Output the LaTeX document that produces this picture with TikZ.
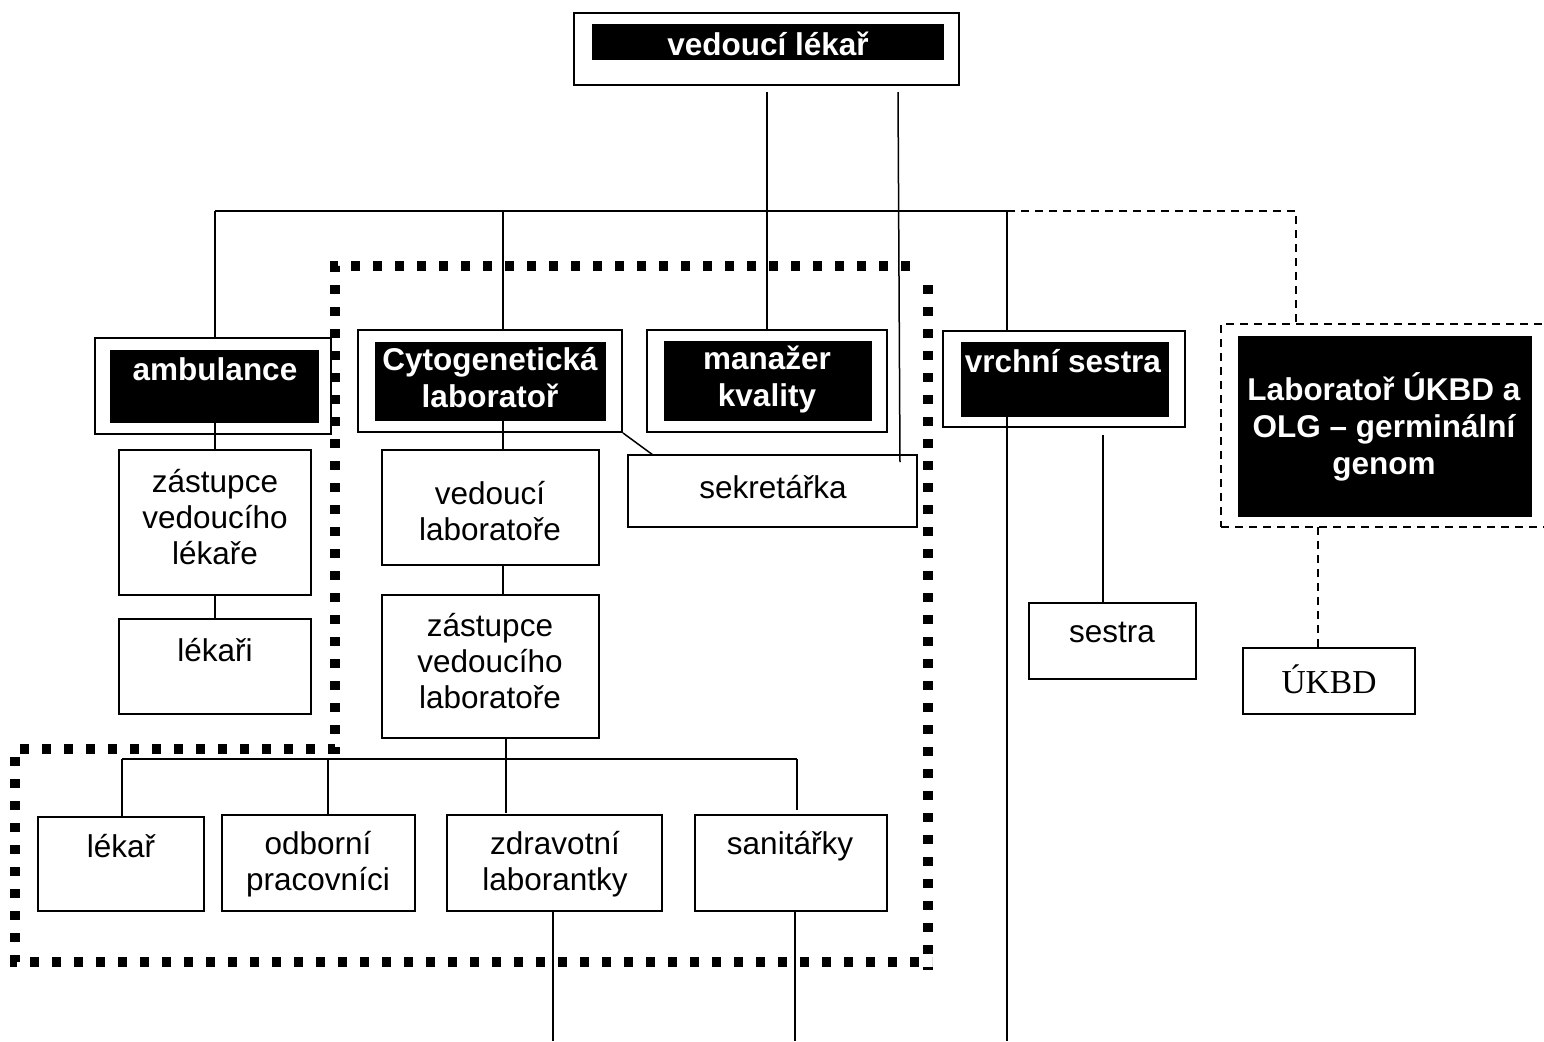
\documentclass[tikz,border=0pt]{standalone}
\usepackage{fontspec}
\setmainfont{Liberation Sans}
\newfontfamily\tmsfont{Liberation Serif}
\usetikzlibrary{fit}
\tikzset{
  box/.style={draw, line width=1pt, inner sep=0pt},
  blk/.style={fill=black, inner sep=0pt},
  dbox/.style={draw, line width=1pt, dash pattern=on 4pt off 3pt, inner sep=0pt},
  conn/.style={line width=0.75pt},
  dconn/.style={line width=0.75pt, dash pattern=on 4pt off 3pt},
  grp/.style={line width=4.6pt, dash pattern=on 4.6pt off 6.4pt},
  txt/.style={font=\fontsize{15.75}{18}\selectfont, align=center, inner sep=0pt},
  wtxt/.style={txt, text=white, font=\fontsize{15.75}{18.5}\selectfont\bfseries},
}
\begin{document}
\begin{tikzpicture}[x=0.5pt,y=-0.5pt]
\clip (0,0) rectangle (1544,1041);
\fill[white] (0,0) rectangle (1544,1041);

% ---- top box
\node[box, fit={(574,13) (959,85)}] (vl) {};
\node[blk, fit={(592,24) (944,60)}] (vlb) {};
\node[wtxt] at (768,44) {vedoucí lékař};

% ---- second level
\node[box, fit={(95,338) (331,434)}] (amb) {};
\node[blk, fit={(110,350) (319,423)}] (ambb) {};
\node[wtxt] at (215,369) {ambulance};

\node[box, fit={(358,330) (622,432)}] (cyt) {};
\node[blk, fit={(375,342) (606,421)}] (cytb) {};
\node[wtxt] at (490,378) {Cytogenetická\\laboratoř};

\node[box, fit={(647,330) (887,432)}] (mk) {};
\node[blk, fit={(664,341) (872,421)}] (mkb) {};
\node[wtxt] at (767,379) {manažer\\kvality};

\node[box, fit={(943,331) (1185,427)}] (vs) {};
\node[blk, fit={(961,342) (1169,417)}] (vsb) {};
\node[wtxt] at (1063,361) {vrchní sestra};

\node[dbox, fit={(1221,324) (1560,527)}] (lab) {};
\node[blk, fit={(1238,336) (1532,517)}] (labb) {};
\node[wtxt] at (1384,427) {Laboratoř ÚKBD a\\OLG – germinální\\genom};

% ---- lower boxes
\node[box, fit={(628,455) (917,527)}] (sek) {};
\node[txt] at (773,487) {sekretářka};

\node[box, fit={(119,450) (311,595)}] (zl) {};
\node[txt] at (215,517) {zástupce\\vedoucího\\lékaře};
\node[box, fit={(119,619) (311,714)}] (lki) {};
\node[txt] at (215,650) {lékaři};

\node[box, fit={(382,450) (599,565)}] (vlab) {};
\node[txt] at (490,511) {vedoucí\\laboratoře};
\node[box, fit={(382,595) (599,738)}] (zlab) {};
\node[txt] at (490,661) {zástupce\\vedoucího\\laboratoře};

\node[box, fit={(38,817) (204,911)}] (lek) {};
\node[txt] at (121,846) {lékař};
\node[box, fit={(222,815) (415,911)}] (odb) {};
\node[txt] at (318,864) {odborní\\pracovníci};
\node[box, fit={(447,815) (662,911)}] (zdr) {};
\node[txt] at (555,864) {zdravotní\\laborantky};
\node[box, fit={(695,815) (887,911)}] (san) {};
\node[txt] at (790,846) {sanitářky};

\node[box, fit={(1029,603) (1196,679)}] (ses) {};
\node[txt] at (1112,632) {sestra};
\node[box, fit={(1243,648) (1415,714)}] (uk) {};
\node[txt, font=\fontsize{16.75}{19}\selectfont\tmsfont] at (1329,679) {ÚKBD};

% ---- connectors
\coordinate (vl1) at (767,92);
\coordinate (vl2) at (898,92);
\coordinate (sekin) at (900,462);
\draw[conn] (vl1) -- (vl1 |- mk.north);
\draw[conn] (vl2) -- (sekin);

\coordinate (busL) at (215,211);
\coordinate (busC) at (503,211);
\coordinate (busR) at (1007,211);
\coordinate (busD) at (1296,211);
\draw[conn] (busL) -- (busR);
\draw[conn] (busL) -- (busL |- amb.north);
\draw[conn] (busC) -- (busC |- cyt.north);
\draw[conn] (busR) -- (busR |- vs.north);
\draw[dconn] (busR) -- (busD) -- (busD |- lab.north);

\draw[conn] (busL |- ambb.south) -- (busL |- zl.north);
\draw[conn] (busL |- zl.south) -- (busL |- lki.north);
\draw[conn] (busC |- cytb.south) -- (busC |- vlab.north);
\draw[conn] (busC |- vlab.south) -- (busC |- zlab.north);
\coordinate (sekd) at (653,455);
\draw[conn] (cyt.south east) -- (sekd);

\coordinate (b3) at (506,759);
\coordinate (b3L) at (122,759);
\coordinate (b3O) at (328,759);
\coordinate (b3R) at (797,759);
\coordinate (b3Re) at (797,810);
\coordinate (b3Ze) at (506,813);
\draw[conn] (b3 |- zlab.south) -- (b3Ze);
\draw[conn] (b3L) -- (b3R);
\draw[conn] (b3L) -- (b3L |- lek.north);
\draw[conn] (b3O) -- (b3O |- odb.north);
\draw[conn] (b3R) -- (b3Re);

\coordinate (d1) at (553,1041);
\coordinate (d2) at (795,1041);
\coordinate (d3) at (1007,1041);
\draw[conn] (d1 |- zdr.south) -- (d1);
\draw[conn] (d2 |- san.south) -- (d2);
\draw[conn] (d3 |- vsb.south) -- (d3);

\coordinate (s1) at (1103,435);
\draw[conn] (s1) -- (s1 |- ses.north);
\coordinate (u1) at (1318,527);
\draw[dconn] (u1) -- (u1 |- uk.north);

% ---- dotted group boundary
\draw[grp] (910,266) -- (335,266) -- (335,749) -- (15,749) -- (15,962) -- (932,962);
\draw[grp] (928,285) -- (928,970);
\end{tikzpicture}
\end{document}
